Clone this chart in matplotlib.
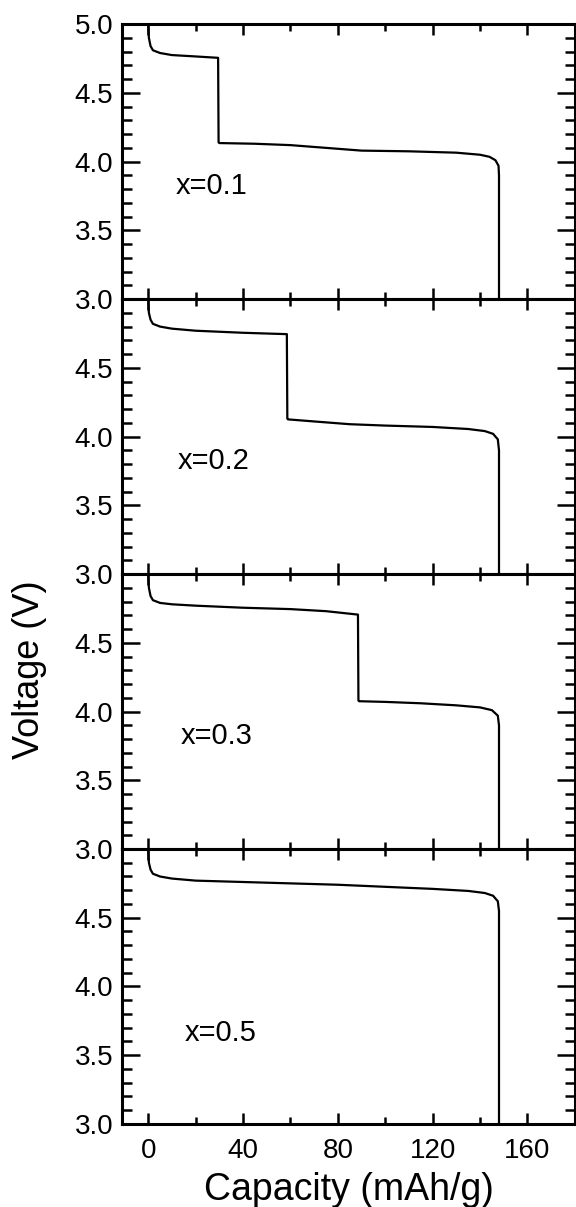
import numpy as np
import matplotlib.pyplot as plt
from matplotlib.ticker import MultipleLocator

plt.rcParams['font.family'] = ['Liberation Sans', 'DejaVu Sans']

labels = ["x=0.1", "x=0.2", "x=0.3", "x=0.5"]
label_x = [11.5, 12.5, 13.5, 15.5]
label_v = [3.82, 3.82, 3.82, 3.66]

# capacity (mAh/g) and voltage (V)
cap1 = [0, 0.3, 1, 2, 5, 10, 20, 29.5, 29.7, 30, 45, 60, 75, 90, 110, 130, 140, 144, 146.5, 147.8, 148, 148]
v1 = [5.0, 4.9, 4.84, 4.81, 4.79, 4.775, 4.765, 4.755, 4.14, 4.135, 4.13, 4.12, 4.10, 4.08, 4.075, 4.065, 4.05, 4.035, 4.01, 3.97, 3.9, 3.0]

cap2 = [0, 0.3, 1, 2, 5, 10, 20, 40, 58.5, 58.7, 59, 70, 85, 100, 120, 135, 142, 145.5, 147.5, 148, 148]
v2 = [5.0, 4.9, 4.85, 4.82, 4.8, 4.785, 4.77, 4.755, 4.745, 4.13, 4.125, 4.11, 4.09, 4.08, 4.07, 4.055, 4.04, 4.02, 3.98, 3.9, 3.0]

cap3 = [0, 0.3, 1, 2, 5, 10, 20, 40, 60, 75, 88.5, 88.7, 89, 100, 115, 130, 140, 145, 147.5, 148, 148]
v3 = [5.0, 4.9, 4.84, 4.81, 4.79, 4.78, 4.77, 4.755, 4.745, 4.73, 4.705, 4.08, 4.075, 4.07, 4.06, 4.045, 4.03, 4.01, 3.97, 3.9, 3.0]

cap4 = [0, 0.3, 1, 2, 5, 10, 20, 40, 60, 80, 100, 120, 135, 142, 145.5, 147.5, 148, 148]
v4 = [5.0, 4.9, 4.85, 4.82, 4.8, 4.785, 4.77, 4.76, 4.75, 4.74, 4.725, 4.71, 4.695, 4.68, 4.66, 4.62, 4.55, 3.0]

caps = [cap1, cap2, cap3, cap4]
volts = [v1, v2, v3, v4]

fig, axes = plt.subplots(4, 1, figsize=(5.76, 12.07), dpi=100, sharex=True)
fig.subplots_adjust(left=0.212, right=0.998, top=0.980, bottom=0.0688, hspace=0)

for i, ax in enumerate(axes):
    ax.plot(caps[i], volts[i], color='black', lw=1.6)
    ax.set_xlim(-11, 180)
    ax.set_ylim(3.0, 5.0)
    ax.xaxis.set_major_locator(MultipleLocator(40))
    ax.xaxis.set_minor_locator(MultipleLocator(20))
    ax.yaxis.set_major_locator(MultipleLocator(0.5))
    ax.yaxis.set_minor_locator(MultipleLocator(0.1))
    ax.tick_params(which='both', direction='in', top=True, right=True,
                   width=1.8, labelsize=20)
    ax.tick_params(axis='y', which='major', length=13, pad=6.5)
    ax.tick_params(axis='y', which='minor', length=7)
    ax.tick_params(axis='x', which='major', length=8, pad=10)
    ax.tick_params(axis='x', which='minor', length=5)
    for s in ax.spines.values():
        s.set_linewidth(2.2)
    ax.yaxis.set_major_formatter(plt.FuncFormatter(lambda v, p: f"{v:.1f}"))
    if i > 0:
        ax.set_yticks([3.0, 3.5, 4.0, 4.5])
    ax.text(label_x[i], label_v[i], labels[i], fontsize=21, va='center', ha='left')

axes[-1].set_xticks([0, 40, 80, 120, 160])
axes[-1].set_xlabel("Capacity (mAh/g)", fontsize=27, labelpad=6)
fig.text(0.052, 0.445, "Voltage (V)", rotation=90, fontsize=26, va='center', ha='center')

fig.savefig("out.png", dpi=100)
